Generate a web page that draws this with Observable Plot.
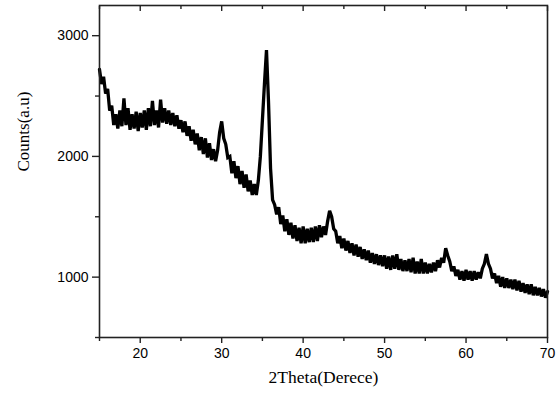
<!DOCTYPE html>
<html>
<head>
<meta charset="utf-8">
<script src="https://cdn.jsdelivr.net/npm/d3@7"></script>
<script src="https://cdn.jsdelivr.net/npm/@observablehq/plot@0.6"></script>
<style>
  html, body { margin: 0; padding: 0; background: #fff; }
  #chart { width: 558px; height: 396px; }
</style>
</head>
<body>
<div id="chart"></div>
<script>
// 2θ grid start and step (degrees)
const thetaStart = 15;
const thetaStep = 0.25;

// Counts, 4 samples per degree from 15° to 70°
const counts = [
  2720, 2600, 2660, 2520, // 15
  2560, 2380, 2420, 2260, // 16
  2350, 2230, 2380, 2250, // 17
  2480, 2260, 2400, 2220, // 18
  2350, 2230, 2370, 2210, // 19
  2360, 2240, 2380, 2220, // 20
  2400, 2250, 2460, 2260, // 21
  2380, 2240, 2470, 2280, // 22
  2400, 2270, 2380, 2260, // 23
  2360, 2250, 2340, 2230, // 24
  2300, 2200, 2290, 2170, // 25
  2250, 2130, 2220, 2100, // 26
  2190, 2050, 2160, 2020, // 27
  2150, 1990, 2110, 1970, // 28
  2060, 1960, 2050, 2200, // 29
  2290, 2150, 2100, 1990, // 30
  2000, 1860, 1960, 1820, // 31
  1920, 1770, 1880, 1740, // 32
  1850, 1710, 1800, 1680, // 33
  1770, 1680, 1800, 2000, // 34
  2300, 2600, 2880, 2450, // 35
  1900, 1640, 1600, 1520, // 36
  1580, 1440, 1510, 1380, // 37
  1480, 1350, 1450, 1320, // 38
  1430, 1300, 1410, 1280, // 39
  1420, 1280, 1400, 1290, // 40
  1410, 1290, 1420, 1300, // 41
  1430, 1330, 1420, 1350, // 42
  1460, 1550, 1500, 1400, // 43
  1380, 1280, 1340, 1240, // 44
  1320, 1220, 1300, 1200, // 45
  1280, 1180, 1270, 1170, // 46
  1250, 1150, 1230, 1140, // 47
  1220, 1120, 1200, 1110, // 48
  1190, 1100, 1180, 1090, // 49
  1180, 1070, 1170, 1060, // 50
  1180, 1070, 1190, 1060, // 51
  1150, 1050, 1140, 1050, // 52
  1150, 1040, 1160, 1030, // 53
  1130, 1030, 1150, 1030, // 54
  1120, 1030, 1110, 1040, // 55
  1120, 1050, 1140, 1080, // 56
  1160, 1120, 1240, 1180, // 57
  1130, 1050, 1090, 1010, // 58
  1060, 980, 1050, 970,   // 59
  1060, 980, 1050, 970,   // 60
  1050, 980, 1040, 990,   // 61
  1070, 1110, 1190, 1110, // 62
  1070, 990, 1030, 950,   // 63
  1010, 920, 1000, 910,   // 64
  990, 910, 980, 900,     // 65
  980, 890, 970, 880,     // 66
  950, 870, 940, 860,     // 67
  940, 850, 920, 850,     // 68
  910, 840, 900, 830,     // 69
  880                     // 70
];

const xMajorTicks = [20, 30, 40, 50, 60, 70];
const xMinorTicks = [15, 25, 35, 45, 55, 65];
const yMajorTicks = [1000, 2000, 3000];
const yMinorTicks = [500, 1500, 2500];
const xDomain = [15, 70];
const yDomain = [500, 3250];
const xTitle = "2Theta(Derece)";
const yTitle = "Counts(a.u)";

const data = counts.map((c, i) => ({ theta: thetaStart + i * thetaStep, count: c }));

const tickFont = "'Liberation Sans', Arial, sans-serif";
const titleFont = "'Liberation Serif', 'Times New Roman', serif";

const chart = Plot.plot({
  width: 558,
  height: 396,
  marginLeft: 99,
  marginRight: 11,
  marginTop: 5,
  marginBottom: 59,
  style: { fontFamily: tickFont, fontSize: "14px", color: "black", background: "white" },
  x: { domain: xDomain },
  y: { domain: yDomain },
  marks: [
    Plot.line(data, { x: "theta", y: "count", stroke: "black", strokeWidth: 3.3, strokeLinejoin: "miter", strokeMiterlimit: 2 }),
    Plot.frame({ stroke: "#222", strokeWidth: 1.6 }),
    // left axis
    Plot.axisY(yMajorTicks, { anchor: "left", tickSize: 7, tickPadding: 4, tickFormat: d => String(d), label: null, stroke: "#222", strokeWidth: 1.4 }),
    Plot.axisY(yMinorTicks, { anchor: "left", tickSize: 4, tickFormat: () => "", label: null, stroke: "#222", strokeWidth: 1.4 }),
    // bottom axis
    Plot.axisX(xMajorTicks, { anchor: "bottom", tickSize: 6, tickPadding: 5, tickFormat: d => String(d), label: null, stroke: "#222", strokeWidth: 1.4 }),
    Plot.axisX(xMinorTicks, { anchor: "bottom", tickSize: 4, tickFormat: () => "", label: null, stroke: "#222", strokeWidth: 1.4 }),
    // top axis, ticks pointing inward
    Plot.axisX(xMajorTicks, { anchor: "top", tickSize: 5, dy: 5, tickFormat: () => "", label: null, stroke: "#222", strokeWidth: 1.4 }),
    Plot.axisX(xMinorTicks, { anchor: "top", tickSize: 3, dy: 3, tickFormat: () => "", label: null, stroke: "#222", strokeWidth: 1.4 }),
    // axis titles
    Plot.text([yTitle], { frameAnchor: "left", dx: -76, rotate: -90, fontFamily: titleFont, fontSize: 17, fill: "black" }),
    Plot.text([xTitle], { frameAnchor: "bottom", dy: 45, fontFamily: titleFont, fontSize: 17.5, fill: "black" })
  ]
});

document.getElementById("chart").appendChild(chart);
</script>
</body>
</html>
